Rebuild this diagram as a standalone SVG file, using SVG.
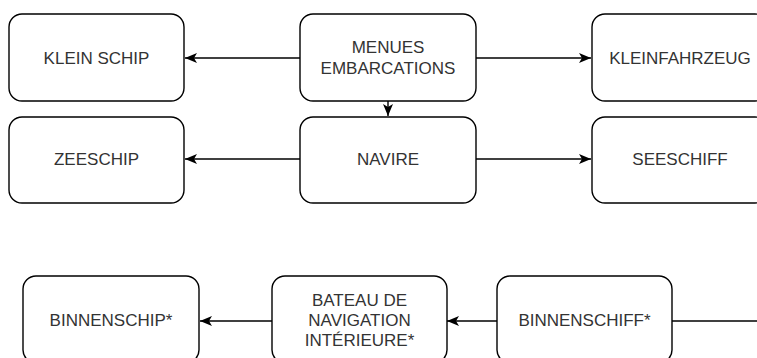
<svg xmlns="http://www.w3.org/2000/svg" width="757" height="358" viewBox="0 0 757 358">
<style>
.box{fill:#fff;stroke:#000;stroke-width:1.4}
.lbl{font-family:"Liberation Sans",Arial,sans-serif;font-size:17px;fill:#333;text-anchor:middle;dominant-baseline:central}
.edge{fill:none;stroke:#000;stroke-width:1.4}
</style>
<defs>
<marker id="ah" viewBox="0 0 12 10" markerWidth="12" markerHeight="10" refX="12" refY="5" orient="auto" markerUnits="userSpaceOnUse">
<path d="M0,0 L12,5 L0,10 L3,5 z" fill="#000"/>
</marker>
</defs>
<rect width="757" height="358" fill="#fff"/>
<g id="connectors">
<line class="edge" x1="300" y1="58" x2="185" y2="58" marker-end="url(#ah)"/>
<line class="edge" x1="476" y1="58" x2="591" y2="58" marker-end="url(#ah)"/>
<line class="edge" x1="388" y1="101" x2="388" y2="116" marker-end="url(#ah)"/>
<line class="edge" x1="300" y1="159" x2="185" y2="159" marker-end="url(#ah)"/>
<line class="edge" x1="476" y1="159" x2="591" y2="159" marker-end="url(#ah)"/>
<line class="edge" x1="272" y1="321" x2="200" y2="321" marker-end="url(#ah)"/>
<line class="edge" x1="497" y1="321" x2="447" y2="321" marker-end="url(#ah)"/>
<line class="edge" x1="672" y1="321" x2="760" y2="321"/>
</g>
<g id="klein-schip"><rect class="box" x="9" y="14" width="175" height="87" rx="13"/><text class="lbl" x="96.5" y="58">KLEIN SCHIP</text></g>
<g id="menues-embarcations"><rect class="box" x="300" y="14" width="176" height="87" rx="13"/><text class="lbl" x="388" y="47">MENUES</text><text class="lbl" x="388" y="68.5">EMBARCATIONS</text></g>
<g id="kleinfahrzeug"><rect class="box" x="592" y="14" width="176" height="87" rx="13"/><text class="lbl" x="680" y="58">KLEINFAHRZEUG</text></g>
<g id="zeeschip"><rect class="box" x="9" y="117" width="175" height="86" rx="13"/><text class="lbl" x="96.5" y="159">ZEESCHIP</text></g>
<g id="navire"><rect class="box" x="300" y="117" width="176" height="86" rx="13"/><text class="lbl" x="388" y="159">NAVIRE</text></g>
<g id="seeschiff"><rect class="box" x="592" y="117" width="176" height="86" rx="13"/><text class="lbl" x="680" y="159">SEESCHIFF</text></g>
<g id="binnenschip"><rect class="box" x="23" y="276" width="176" height="87" rx="13"/><text class="lbl" x="111" y="320">BINNENSCHIP*</text></g>
<g id="bateau-navigation-interieure"><rect class="box" x="272" y="276" width="175" height="87" rx="13"/><text class="lbl" x="359.5" y="300">BATEAU DE</text><text class="lbl" x="359.5" y="320">NAVIGATION</text><text class="lbl" x="359.5" y="340">INTÉRIEURE*</text></g>
<g id="binnenschiff"><rect class="box" x="497" y="276" width="175" height="87" rx="13"/><text class="lbl" x="584.5" y="320">BINNENSCHIFF*</text></g>
</svg>
